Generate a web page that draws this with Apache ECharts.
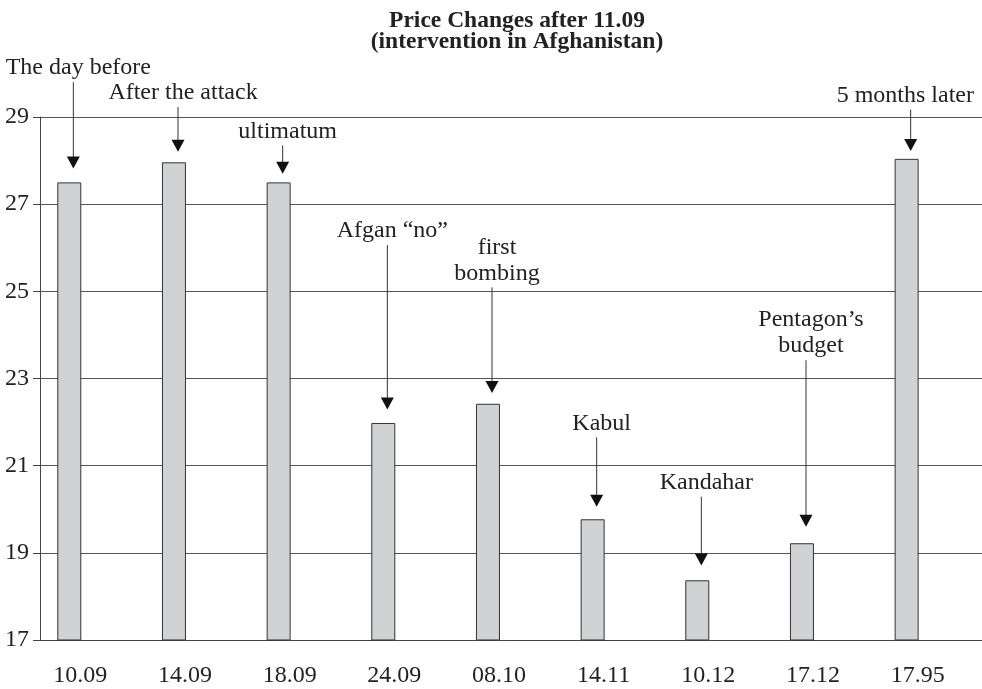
<!DOCTYPE html>
<html>
<head>
<meta charset="utf-8">
<title>Price Changes after 11.09</title>
<script src="https://cdn.jsdelivr.net/npm/echarts@6/dist/echarts.min.js"></script>
<style>
  html, body { margin: 0; padding: 0; background: #fff; }
  #chart { width: 982px; height: 689px; }
</style>
</head>
<body>
<div id="chart"></div>
<script>
const categories = ['10.09', '14.09', '18.09', '24.09', '08.10', '14.11', '10.12', '17.12', '17.95']
const prices = [27.5, 27.96, 27.5, 21.98, 22.42, 19.77, 18.37, 19.22, 28.04]
const notes = ['The day before', 'After the attack', 'ultimatum', 'Afgan “no”', 'first\nbombing',
  'Kabul', 'Kandahar', 'Pentagon’s\nbudget', '5 months later']
// arrow start / arrow tip, in price units
const arrowTop = [29.8, 29.23, 28.35, 26.06, 25.09, 21.65, 20.29, 23.42, 29.17]
const arrowTip = [27.82, 28.2, 27.7, 22.29, 22.67, 20.06, 18.71, 19.6, 28.22]
const yTicks = { min: 17, max: 29, step: 2 }

const FONT = '"Liberation Serif", "DejaVu Serif", serif'
const INK = '#222'
const ARROW_SHIFT = -19

const chart = echarts.init(document.getElementById('chart'))

const annotations = categories.map((c, i) => [i, arrowTop[i], arrowTip[i]])

// keep the notes inside the canvas (the last one sits near the right edge)
const measureCtx = document.createElement('canvas').getContext('2d')
measureCtx.font = '24px ' + FONT
function noteWidth(text) {
  return Math.max(...text.split('\n').map(t => measureCtx.measureText(t).width))
}

const option = {
  animation: false,
  title: {
    text: 'Price Changes after 11.09\n(intervention in Afghanistan)',
    left: 512,
    top: 5,
    textAlign: 'center',
    textStyle: { fontFamily: FONT, fontSize: 23.5, fontWeight: 'bold', color: INK, lineHeight: 21 }
  },
  grid: { left: 40, right: 0, top: 117, bottom: 49 },
  xAxis: {
    type: 'category',
    data: categories,
    boundaryGap: true,
    axisLine: { lineStyle: { color: '#444', width: 1 } },
    axisTick: { length: 10, lineStyle: { color: '#444' } },
    axisLabel: {
      fontFamily: FONT, fontSize: 24, color: INK, margin: 24,
      padding: [0, 24, 0, 0]
    }
  },
  yAxis: {
    type: 'value',
    min: yTicks.min,
    max: yTicks.max,
    interval: yTicks.step,
    axisLine: { show: true, lineStyle: { color: '#444' } },
    axisTick: { show: true, length: 7, lineStyle: { color: '#444' } },
    axisLabel: { fontFamily: FONT, fontSize: 24, color: INK, margin: 11 },
    splitLine: { lineStyle: { color: '#555', width: 1 } }
  },
  series: [
    {
      type: 'bar',
      data: prices,
      barWidth: 24,
      barGap: '92%',
      itemStyle: { color: '#d1d2d4', borderColor: '#333', borderWidth: 1 }
    },
    {
      // empty neighbour so the bars sit left of the category centre
      type: 'bar',
      data: categories.map(() => null),
      barWidth: 24
    },
    {
      type: 'custom',
      clip: false,
      data: annotations,
      renderItem(params, api) {
        const idx = api.value(0)
        const top = api.coord([idx, api.value(1)])
        const tip = api.coord([idx, api.value(2)])
        const x = top[0] + ARROW_SHIFT
        const half = noteWidth(notes[idx]) / 2
        const tx = Math.min(x + 5, api.getWidth() - 8 - half)
        return {
          type: 'group',
          children: [
            {
              type: 'line',
              shape: { x1: x, y1: top[1], x2: x, y2: tip[1] - 8 },
              style: { stroke: '#333', lineWidth: 1 }
            },
            {
              type: 'polygon',
              shape: { points: [[x - 6.5, tip[1] - 12], [x + 6.5, tip[1] - 12], [x, tip[1]]] },
              style: { fill: '#111' }
            },
            {
              type: 'text',
              style: {
                text: notes[idx],
                x: tx,
                y: top[1] - 1,
                align: 'center',
                verticalAlign: 'bottom',
                fontFamily: FONT,
                fontSize: 24,
                lineHeight: 26,
                fill: INK
              }
            }
          ]
        }
      }
    }
  ]
}

chart.setOption(option)
</script>
</body>
</html>
